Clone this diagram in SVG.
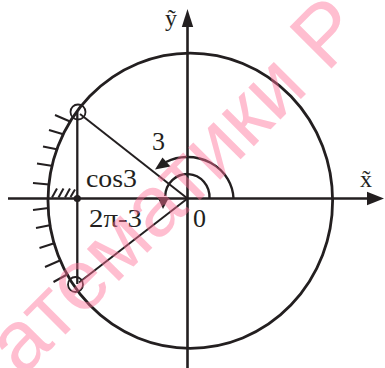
<svg xmlns="http://www.w3.org/2000/svg" width="385" height="368" viewBox="0 0 385 368">
<style>
.ln{stroke:#231f20;fill:none;stroke-linecap:butt}
.ax{stroke-width:2.6}
.th{stroke-width:2}
.hd{fill:#231f20;stroke:none}
.t{font-family:"Liberation Serif","Times New Roman",serif;fill:#231f20}
.wm{font-family:"Liberation Sans",Arial,sans-serif;fill:#ff6f96;fill-opacity:0.45}
</style>
<rect width="385" height="368" fill="#ffffff"/>
<g id="axes">
<line class="ln ax" x1="8" y1="198.5" x2="369" y2="198.5"/>
<polygon class="hd" points="384,198.5 367,191.8 367,205.2"/>
<line class="ln ax" x1="187.5" y1="26" x2="187.5" y2="368"/>
<polygon class="hd" points="187.5,9 181.8,27 193.2,27"/>
</g>
<g id="circle">
<ellipse class="ln" cx="190.3" cy="200.7" rx="142.3" ry="147.6" stroke-width="2.8"/>
</g>
<g id="connectors">
<line class="ln th" x1="187.5" y1="198.5" x2="80" y2="114"/>
<line class="ln th" x1="187.5" y1="198.5" x2="79" y2="282.5"/>
<line class="ln" stroke-width="2.3" x1="77.3" y1="112" x2="77.3" y2="284"/>
</g>
<g id="points">
<circle class="ln" cx="78" cy="112" r="7.5" stroke-width="1.8"/>
<circle class="ln" cx="75.5" cy="284.5" r="7.5" stroke-width="1.8"/>
<circle class="hd" cx="77.3" cy="198.5" r="3.6"/>
</g>
<g id="ticks" class="ln th">
<line x1="55" y1="115" x2="70" y2="121.5"/>
<line x1="49" y1="130" x2="64" y2="134.5"/>
<line x1="43" y1="146.5" x2="58" y2="149.5"/>
<line x1="37" y1="163.5" x2="53" y2="166"/>
<line x1="33" y1="183" x2="49" y2="184.5"/>
<line x1="33" y1="210" x2="48.5" y2="208"/>
<line x1="36" y1="228" x2="51" y2="225"/>
<line x1="39.5" y1="248" x2="55" y2="243"/>
<line x1="45" y1="267" x2="61" y2="260"/>
<line x1="53.5" y1="282" x2="68" y2="274"/>
</g>
<g id="hatch" class="ln th">
<line x1="52" y1="197.5" x2="57" y2="188.5"/>
<line x1="58.5" y1="197.5" x2="63.5" y2="188.5"/>
<line x1="65" y1="197.5" x2="70" y2="188.5"/>
<line x1="70.5" y1="197" x2="75" y2="189.5"/>
</g>
<g id="angle-3">
<path class="ln" stroke-width="2.4" d="M233.5 198.5 A46 43 0 0 0 166 162"/>
<polygon class="hd" points="155,169.5 162.5,157.5 170.5,166.5"/>
</g>
<g id="angle-2pi-3">
<path class="ln" stroke-width="2.4" d="M209.5 198.5 A22 23 0 0 0 165.2 196"/>
<polygon class="hd" points="163,209 157.5,197 169,197.5"/>
</g>
<g id="labels">
<text class="t" x="152" y="150" font-size="26">3</text>
<text class="t" x="86" y="187" font-size="26" textLength="51" lengthAdjust="spacingAndGlyphs">cos3</text>
<text class="t" x="89" y="227" font-size="26" textLength="53" lengthAdjust="spacingAndGlyphs">2π-3</text>
<text class="t" x="193" y="227" font-size="26">0</text>
<text class="t" x="165" y="26" font-size="24">ỹ</text>
<text class="t" x="360" y="187" font-size="24">x̃</text>
</g>
<g id="watermark">
<text class="wm" transform="translate(22,378) rotate(-45)" font-size="86" textLength="488" lengthAdjust="spacing">атематики Р</text>
</g>
</svg>
